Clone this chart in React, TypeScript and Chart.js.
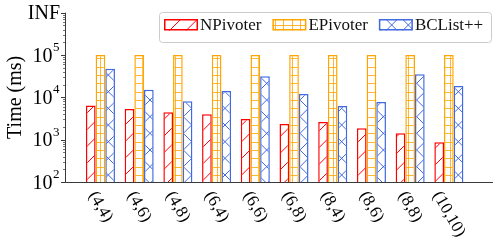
import React, { useEffect, useRef } from 'react';
import { Chart, registerables } from 'chart.js';

Chart.register(...registerables);

const categories = ['(4,4)', '(4,6)', '(4,8)', '(6,4)', '(6,6)', '(6,8)', '(8,4)', '(8,6)', '(8,8)', '(10,10)'];
const nPivoterMs = [6450, 5300, 4430, 3970, 3080, 2350, 2610, 1850, 1410, 865];
const ePivoterMs = [100000, 100000, 100000, 100000, 100000, 100000, 100000, 100000, 100000, 100000];
const bcListMs = [47500, 15100, 8050, 14100, 31400, 12000, 6240, 7770, 35000, 18500];
const seriesLabels = ['NPivoter', 'EPivoter', 'BCList++'];
const seriesColors = ['#ff0000', '#ffa500', '#4169e1'];
const seriesHatchColors = ['#ff0000', 'rgba(255,165,0,0.8)', '#4169e1'];
const seriesHatches = ['/', '++', 'x'];
const yTickValues = [1e2, 1e3, 1e4, 1e5, 1e6];
const yTickBases = ['10', '10', '10', '10', 'INF'];
const yTickExps = ['2', '3', '4', '5', ''];
const yAxisTitle = 'Time (ms)';

const SERIF = "'Liberation Serif', 'Times New Roman', serif";
const AXIS = '#3a3a3a';

function makePattern(hatch: string, color: string): CanvasPattern | string {
  const size = 100;
  const c = document.createElement('canvas');
  c.width = size;
  c.height = size;
  const g = c.getContext('2d');
  if (!g) return '#fff';
  g.fillStyle = '#ffffff';
  g.fillRect(0, 0, size, size);
  g.strokeStyle = color;
  g.lineWidth = 1;
  const n = 6 * hatch.length;
  const s = size / n;
  g.beginPath();
  if (hatch.includes('/') || hatch.includes('x')) {
    for (let i = -n; i <= 2 * n; i++) {
      g.moveTo(i * s, size);
      g.lineTo(i * s + size, 0);
    }
  }
  if (hatch.includes('x')) {
    for (let i = -n; i <= 2 * n; i++) {
      g.moveTo(i * s, 0);
      g.lineTo(i * s + size, size);
    }
  }
  if (hatch.includes('+')) {
    for (let i = 0; i < n; i++) {
      const p = Math.round(i * s) + 0.5;
      g.moveTo(0, p);
      g.lineTo(size, p);
      g.moveTo(p, 0);
      g.lineTo(p, size);
    }
  }
  g.stroke();
  return g.createPattern(c, 'repeat') || '#fff';
}

const overlayPlugin = {
  id: 'overlay',
  afterDraw(chart: any) {
    const ctx: CanvasRenderingContext2D = chart.ctx;
    const { left, right, top, bottom } = chart.chartArea;
    const xs = chart.scales.x;
    const ys = chart.scales.y;
    ctx.save();

    // spines
    ctx.strokeStyle = AXIS;
    ctx.lineWidth = 1;
    ctx.beginPath();
    ctx.moveTo(left - 0.5, top);
    ctx.lineTo(left - 0.5, bottom + 1);
    ctx.moveTo(left - 1, bottom + 0.5);
    ctx.lineTo(right, bottom + 0.5);
    ctx.stroke();

    // minor y ticks
    ctx.lineWidth = 0.7;
    ctx.beginPath();
    for (let e = 2; e < 6; e++) {
      for (let m = 2; m <= 9; m++) {
        const py = Math.round(ys.getPixelForValue(m * Math.pow(10, e))) + 0.5;
        ctx.moveTo(left - 0.5 - 2.5, py);
        ctx.lineTo(left - 0.5, py);
      }
    }
    ctx.stroke();
    // major y ticks
    ctx.lineWidth = 1;
    ctx.beginPath();
    yTickValues.forEach((v) => {
      const py = Math.round(ys.getPixelForValue(v)) + 0.5;
      ctx.moveTo(left - 0.5 - 4.5, py);
      ctx.lineTo(left - 0.5, py);
    });
    ctx.stroke();

    // y tick labels
    ctx.fillStyle = '#000';
    ctx.textBaseline = 'alphabetic';
    yTickValues.forEach((v, i) => {
      const py = ys.getPixelForValue(v);
      const base = yTickBases[i];
      const exp = yTickExps[i];
      ctx.font = `20px ${SERIF}`;
      const bw = ctx.measureText(base).width;
      ctx.font = `13px ${SERIF}`;
      const ew = exp ? ctx.measureText(exp).width : 0;
      const rightEdge = exp ? left - 7 : left - 6;
      const x0 = rightEdge - bw - ew;
      ctx.font = `20px ${SERIF}`;
      ctx.textAlign = 'left';
      ctx.fillText(base, x0, py + 6.7);
      if (exp) {
        ctx.font = `13px ${SERIF}`;
        ctx.fillText(exp, x0 + bw + 0.5, py - 4);
      }
    });

    // x tick labels, rotated clockwise 60deg
    const ang = (60 * Math.PI) / 180;
    ctx.font = `17px ${SERIF}`;
    ctx.textAlign = 'center';
    ctx.textBaseline = 'middle';
    categories.forEach((lab, i) => {
      const px = xs.getPixelForValue(i);
      const L = ctx.measureText(lab).width;
      const h = 17 * 1.1;
      const bh = L * Math.sin(ang) + h * Math.cos(ang);
      const cy = bottom + 6 + bh / 2;
      ctx.save();
      ctx.translate(px, cy);
      ctx.rotate(ang);
      ctx.fillText(lab, 0, 0);
      ctx.restore();
    });

    // legend
    const lx = 159.5;
    const ly = 12.5;
    const lw = 332;
    const lh = 30;
    ctx.beginPath();
    (ctx as any).roundRect(lx, ly, lw, lh, 3);
    ctx.fillStyle = 'rgba(255,255,255,0.85)';
    ctx.fill();
    ctx.strokeStyle = '#cccccc';
    ctx.lineWidth = 1;
    ctx.stroke();

    ctx.font = `17px ${SERIF}`;
    ctx.textAlign = 'left';
    ctx.textBaseline = 'middle';
    let cx = 164;
    const patchW = 34;
    const patchH = 11.5;
    const py = 19;
    chart.data.datasets.forEach((ds: any, i: number) => {
      ctx.fillStyle = ds.backgroundColor;
      ctx.fillRect(cx, py, patchW, patchH);
      ctx.strokeStyle = seriesColors[i];
      ctx.lineWidth = 1.5;
      ctx.strokeRect(cx + 0.75, py + 0.75, patchW - 1.5, patchH - 1.5);
      ctx.fillStyle = '#111';
      const tx = cx + patchW + 2;
      ctx.fillText(seriesLabels[i], tx, py + patchH / 2 + 1);
      cx = tx + ctx.measureText(seriesLabels[i]).width + 11;
    });

    ctx.restore();
  },
};

export default function App() {
  const ref = useRef<HTMLCanvasElement | null>(null);
  useEffect(() => {
    document.body.style.margin = '0';
    const canvas = ref.current;
    if (!canvas) return;
    const series = [nPivoterMs, ePivoterMs, bcListMs];
    const chart = new Chart(canvas, {
      type: 'bar',
      data: {
        datasets: series.map((vals, si) => ({
          label: seriesLabels[si],
          data: vals.map((v, i) => ({ x: i, y: v })),
          backgroundColor: makePattern(seriesHatches[si], seriesHatchColors[si]),
          borderColor: seriesColors[si],
          borderWidth: 1.5,
          categoryPercentage: 0.75,
          barPercentage: 1,
        })),
      },
      options: {
        animation: false,
        responsive: false,
        devicePixelRatio: 1,
        layout: { padding: { left: 0, right: 6, top: 12.7, bottom: 0 } },
        plugins: { legend: { display: false }, tooltip: { enabled: false } },
        scales: {
          x: {
            type: 'linear',
            offset: false,
            min: -0.89,
            max: 10.14,
            grid: { display: false },
            border: { display: false },
            ticks: { display: false },
            afterFit: (s: any) => {
              s.height = 70;
            },
          },
          y: {
            type: 'logarithmic',
            min: 100,
            max: 1000000,
            grid: { display: false },
            border: { display: false },
            ticks: { display: false },
            title: {
              display: true,
              text: yAxisTitle,
              color: '#000',
              font: { family: SERIF, size: 20 },
              padding: { top: 4, bottom: 0 },
            },
            afterFit: (s: any) => {
              s.width = 66;
            },
          },
        },
      } as any,
      plugins: [overlayPlugin],
    });
    return () => chart.destroy();
  }, []);
  return <canvas ref={ref} width={499} height={252} style={{ display: 'block', width: 499, height: 252 }} />;
}
